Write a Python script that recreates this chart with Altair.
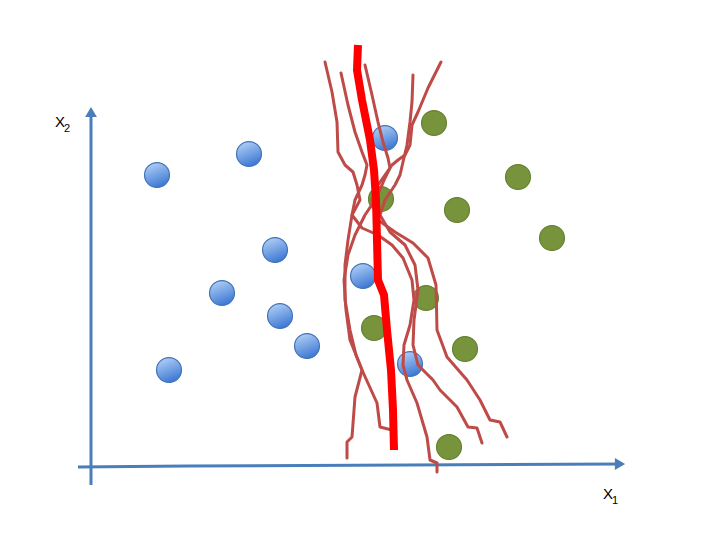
import altair as alt
import pandas as pd

# Positions, in page pixels (x right, y down)
blue_x = [157, 249, 385, 275, 222, 363, 280, 307, 169, 410]
blue_y = [175, 154, 138, 250, 293, 276, 316, 346, 370, 364]
green_x = [434, 518, 457, 552, 381, 426, 374, 465, 449]
green_y = [123, 177, 210, 238, 199, 298, 328, 349, 447]

red_x = [358, 357, 362, 370, 374, 376, 377, 378, 384, 387, 391, 393, 394]
red_y = [45, 70, 100, 140, 170, 200, 240, 280, 295, 330, 370, 410, 450]

brown_lines = [
    ([325, 332, 337, 338, 345, 353, 357, 360, 352, 348, 345, 345, 350, 356, 362, 377, 380, 392],
     [62, 92, 122, 152, 165, 172, 185, 200, 215, 240, 265, 300, 330, 355, 370, 403, 427, 430]),
    ([341, 348, 355, 362, 367, 365, 362, 355, 352, 362, 378, 392, 403, 412, 414, 410, 404, 403, 407, 417, 427, 430, 437, 437],
     [73, 105, 132, 152, 165, 175, 185, 200, 215, 228, 235, 245, 258, 280, 300, 325, 345, 365, 380, 403, 437, 460, 463, 472]),
    ([365, 372, 378, 383, 388, 390, 385, 382, 375, 365, 355, 348, 344, 346, 350, 358, 362, 355, 352, 347, 347],
     [65, 95, 122, 142, 158, 168, 178, 185, 200, 215, 235, 255, 280, 310, 340, 360, 370, 397, 437, 442, 458]),
    ([413, 412, 410, 407, 403, 400, 395, 385, 380, 390, 405, 415, 418, 414, 413, 418, 433, 440, 457, 468, 477, 482],
     [75, 102, 122, 145, 162, 175, 185, 200, 215, 232, 245, 265, 290, 320, 345, 365, 380, 390, 407, 427, 428, 443]),
    ([441, 428, 418, 412, 410, 405, 398, 392, 385, 378, 372, 378, 395, 413, 428, 436, 437, 447, 467, 480, 490, 500, 507],
     [62, 88, 112, 125, 145, 155, 160, 165, 175, 185, 200, 220, 232, 243, 258, 285, 330, 357, 380, 400, 420, 422, 437]),
]

yaxis_x = [91, 91]
yaxis_y = [485, 112]
xaxis_x = [78, 187, 620]
xaxis_y = [467, 466, 464]

labels = ["X", "X"]
label_x = [55, 603]
label_y = [127, 499]
subs = ["2", "1"]
sub_x = [64, 612]
sub_y = [132, 504]

W, H = 704, 524
xs = alt.Scale(domain=[8, 712], range=[0, W], nice=False, zero=False)
ys = alt.Scale(domain=[8, 532], range=[0, H], nice=False, zero=False)

def X(f):
    return alt.X(f, type="quantitative", scale=xs, axis=None)

def Y(f):
    return alt.Y(f, type="quantitative", scale=ys, axis=None)

blue_df = pd.DataFrame({"x": blue_x, "y": blue_y})
green_df = pd.DataFrame({"x": green_x, "y": green_y})
red_df = pd.DataFrame({"x": red_x, "y": red_y, "i": range(len(red_x))})
rows = []
for k, (lx, ly) in enumerate(brown_lines):
    for i, (a, b) in enumerate(zip(lx, ly)):
        rows.append({"x": a, "y": b, "line": k, "i": i})
brown_df = pd.DataFrame(rows)
yax_df = pd.DataFrame({"x": yaxis_x, "y": yaxis_y, "i": [0, 1]})
xax_df = pd.DataFrame({"x": xaxis_x, "y": xaxis_y, "i": [0, 1, 2]})
lab_df = pd.DataFrame({"t": labels, "x": label_x, "y": label_y})
sub_df = pd.DataFrame({"t": subs, "x": sub_x, "y": sub_y})
arrow_up = pd.DataFrame({"x": [yaxis_x[1]], "y": [yaxis_y[1]]})
arrow_right = pd.DataFrame({"x": [xaxis_x[-1]], "y": [xaxis_y[-1]]})

axis_color = "#4A7EBB"
yax = alt.Chart(yax_df).mark_line(color=axis_color, strokeWidth=3).encode(x=X("x"), y=Y("y"), order="i:Q")
xax = alt.Chart(xax_df).mark_line(color=axis_color, strokeWidth=3).encode(x=X("x"), y=Y("y"), order="i:Q")
up = alt.Chart(arrow_up).mark_point(shape="triangle-up", filled=True, size=140, color=axis_color, opacity=1).encode(x=X("x"), y=Y("y"))
right = alt.Chart(arrow_right).mark_point(shape="triangle-right", filled=True, size=140, color=axis_color, opacity=1).encode(x=X("x"), y=Y("y"))

blue_grad = alt.Gradient(
    gradient="linear",
    stops=[alt.GradientStop(color="#B4D2F7", offset=0), alt.GradientStop(color="#3B76D3", offset=1)],
    x1=0.2, y1=0, x2=0.6, y2=1,
)
blue = alt.Chart(blue_df).mark_point(shape="circle", filled=True, size=620, fill=blue_grad,
                                     stroke="#4172B5", strokeWidth=1.2, opacity=1).encode(x=X("x"), y=Y("y"))
green = alt.Chart(green_df).mark_point(shape="circle", filled=True, size=620, fill="#77933C",
                                       stroke="#64802F", strokeWidth=1.2, opacity=1).encode(x=X("x"), y=Y("y"))

brown = alt.Chart(brown_df).mark_line(color="#BE4B48", strokeWidth=3, strokeJoin="round", strokeCap="round").encode(
    x=X("x"), y=Y("y"), detail="line:N", order="i:Q")
red = alt.Chart(red_df).mark_line(color="#FF0000", strokeWidth=8, strokeJoin="round").encode(
    x=X("x"), y=Y("y"), order="i:Q")

lab = alt.Chart(lab_df).mark_text(font="Liberation Sans", fontSize=15, color="black", align="left", baseline="alphabetic").encode(
    x=X("x"), y=Y("y"), text="t:N")
sub = alt.Chart(sub_df).mark_text(font="Liberation Sans", fontSize=11, color="black", align="left", baseline="alphabetic").encode(
    x=X("x"), y=Y("y"), text="t:N")

chart = alt.layer(yax, xax, up, right, blue, green, brown, red, lab, sub).properties(
    width=W, height=H, padding=0, autosize=alt.AutoSizeParams(type="none"), background="white"
).configure_view(stroke=None)

chart.save("out.html", embed_options={"renderer": "svg", "actions": False})
